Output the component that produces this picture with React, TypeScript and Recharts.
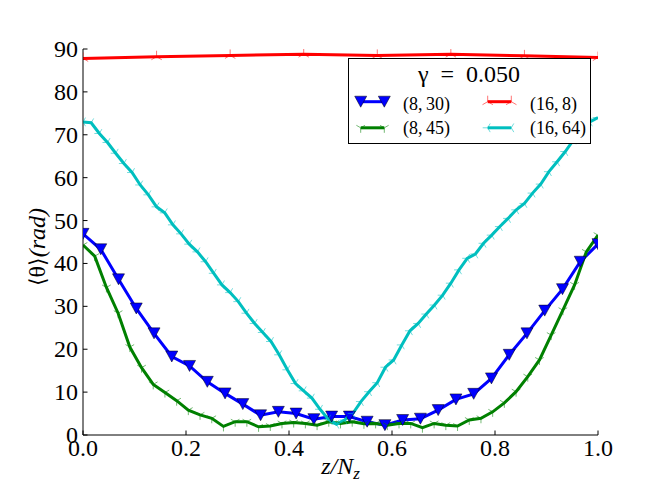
import React from 'react';
import { LineChart, Line, XAxis, YAxis, Legend } from 'recharts';

// ---- data ----
const zTicks = [0, 0.2, 0.4, 0.6, 0.8, 1.0];
const thetaTicks = [0, 10, 20, 30, 40, 50, 60, 70, 80, 90];
const legendTitle = 'γ\u2002=\u20020.050';

const seriesNames = ['(8,\u200930)', '(8,\u200945)', '(16,\u20098)', '(16,\u200964)'];
const seriesColors = ['#0000ff', '#008000', '#ff0000', '#00bfbf'];
const seriesMarkers = ['v', 'tri_down', 'tri_up', 'tri_left'];

// (8,30): 30 layers
const theta_8_30 = [
  46.9, 43.3, 36.3, 29.5, 23.7, 18.3, 16.1, 12.4, 9.7, 7.2,
  4.6, 5.4, 5.0, 3.7, 4.3, 4.3, 3.1, 2.3, 3.5, 3.8,
  5.8, 8.3, 9.6, 13.2, 18.7, 23.7, 29.0, 34.0, 40.4, 44.5,
];
// (8,45): 45 layers
const theta_8_45 = [
  44.3, 41.7, 34.4, 28.4, 20.5, 15.7, 11.8, 9.9, 8.0, 5.8,
  4.7, 3.9, 2.0, 3.1, 3.1, 1.9, 2.1, 2.7, 2.9, 2.7,
  2.3, 3.1, 2.7, 3.1, 2.6, 2.7, 2.3, 2.7, 2.7, 1.7,
  2.7, 2.3, 2.1, 3.5, 3.9, 5.4, 7.5, 10.1, 13.6, 17.5,
  23.3, 29.1, 35.0, 42.7, 46.6,
];
// (16,8): 8 layers
const theta_16_8 = [87.8, 88.2, 88.5, 88.8, 88.5, 88.8, 88.4, 88.0];
// (16,64): 64 layers
const theta_16_64 = [
  73.0, 72.8, 70.3, 68.2, 65.7, 63.3, 61.2, 58.3, 56.0, 53.2,
  51.8, 49.0, 46.9, 44.5, 42.7, 40.4, 37.7, 35.0, 33.2, 31.1,
  28.4, 26.0, 23.9, 21.8, 18.7, 15.2, 12.0, 10.3, 8.6, 6.0,
  3.7, 2.5, 3.5, 5.0, 7.8, 10.1, 12.2, 15.8, 17.5, 21.0,
  24.3, 26.0, 28.2, 30.3, 32.6, 35.4, 38.5, 41.2, 42.2, 44.7,
  46.6, 48.6, 50.5, 52.5, 54.0, 56.4, 58.5, 61.4, 63.7, 66.1,
  68.8, 71.0, 73.0, 74.0,
];

const seriesValues = [theta_8_30, theta_8_45, theta_16_8, theta_16_64];

// layer index -> z / N_z
const toPoints = (vals: number[]) =>
  vals.map((v, i) => ({ z: i / (vals.length - 1), theta: v }));

const SERIF = 'Liberation Serif, Times New Roman, Tinos, DejaVu Serif, serif';
const TICK = 4.5;

function Marker({ kind, cx, cy, color }: { kind: string; cx: number; cy: number; color: string }) {
  if (cx == null || cy == null || isNaN(cx) || isNaN(cy)) return <g />;
  if (kind === 'v') {
    const w = 12;
    const h = 11;
    return (
      <path
        d={`M${cx - w / 2},${cy - h / 2}L${cx + w / 2},${cy - h / 2}L${cx},${cy + h / 2}Z`}
        fill={color}
        stroke="#000"
        strokeWidth={0.5}
      />
    );
  }
  const r = kind === 'tri_up' ? 6 : 5;
  let arms: number[][] = [];
  if (kind === 'tri_down') arms = [[0, 1], [-0.866, -0.5], [0.866, -0.5]];
  if (kind === 'tri_up') arms = [[0, -1], [-0.866, 0.5], [0.866, 0.5]];
  if (kind === 'tri_left') arms = [[-1, 0], [0.5, -0.866], [0.5, 0.866]];
  const d = arms.map(([dx, dy]) => `M${cx},${cy}L${cx + dx * r},${cy + dy * r}`).join('');
  return <path d={d} stroke={color} strokeOpacity={0.55} strokeWidth={1} fill="none" />;
}

const txt = { fontFamily: SERIF, fill: '#000' } as React.CSSProperties;

const BottomTick = (p: any) => (
  <g>
    <line x1={p.x} x2={p.x} y1={p.y} y2={p.y - TICK} stroke="#000" strokeWidth={1} />
    <text x={p.x} y={p.y + 21} textAnchor="middle" fontSize={24} style={txt}>
      {Number(p.payload.value).toFixed(1)}
    </text>
  </g>
);
const TopTick = (p: any) => (
  <line x1={p.x} x2={p.x} y1={p.y} y2={p.y + TICK} stroke="#000" strokeWidth={1} />
);
const LeftTick = (p: any) => (
  <g>
    <line x1={p.x} x2={p.x + TICK} y1={p.y} y2={p.y} stroke="#000" strokeWidth={1} />
    <text x={p.x - 5} y={p.y + 8} textAnchor="end" fontSize={24} style={txt}>
      {String(p.payload.value)}
    </text>
  </g>
);
const RightTick = (p: any) => (
  <line x1={p.x} x2={p.x - TICK} y1={p.y} y2={p.y} stroke="#000" strokeWidth={1} />
);

const XLabel = (props: any) => {
  const vb = props.viewBox || { x: 83, y: 435, width: 515, height: 40 };
  const cx = vb.x + vb.width / 2;
  const y = vb.y + 39;
  return (
    <text x={cx} y={y} textAnchor="middle" fontSize={24} style={{ ...txt, fontStyle: 'italic' }}>
      z/N
      <tspan fontSize={17} dy={5}>z</tspan>
    </text>
  );
};

const YLabel = (props: any) => {
  const vb = props.viewBox || { x: 23, y: 49, width: 60, height: 386 };
  const x = 45;
  const y = vb.y + vb.height / 2 + 5;
  return (
    <text
      x={x}
      y={y}
      transform={`rotate(-90 ${x} ${y})`}
      textAnchor="middle"
      fontSize={24}
      style={txt}
    >
      <tspan style={{ fontFamily: 'DejaVu Serif, serif' }} fontSize={22}>⟨</tspan>
      <tspan>θ</tspan>
      <tspan style={{ fontFamily: 'DejaVu Serif, serif' }} fontSize={22}>⟩</tspan>
      <tspan style={{ fontStyle: 'italic' }}>(rad)</tspan>
    </text>
  );
};

const LegendBox = (props: any) => {
  const payload: any[] = props.payload || [];
  const entries = seriesNames.map((name, i) => {
    const found = payload.find((e) => e && e.value === name);
    return { name, color: found?.color || seriesColors[i], kind: seriesMarkers[i] };
  });
  const rowY = [43.7, 69.8];
  const textY = [52, 75.5];
  const colX = [0, 127];
  return (
    <svg width={244} height={87} style={{ display: 'block' }}>
      <rect x={0.5} y={0.5} width={242} height={85} fill="#fff" stroke="#000" strokeWidth={1} />
      <text x={121} y={24} textAnchor="middle" fontSize={24} style={txt}>
        {legendTitle}
      </text>
      {entries.map((e, i) => {
        const col = Math.floor(i / 2);
        const row = i % 2;
        const x0 = colX[col] + 12.7;
        const x1 = colX[col] + 36.3;
        const y = rowY[row];
        return (
          <g key={e.name}>
            <line x1={x0} x2={x1} y1={y} y2={y} stroke={e.color} strokeWidth={3} />
            <Marker kind={e.kind} cx={x0} cy={y} color={e.color} />
            <Marker kind={e.kind} cx={x1} cy={y} color={e.color} />
            <text x={colX[col] + 55} y={textY[row]} fontSize={18} style={txt}>
              {e.name}
            </text>
          </g>
        );
      })}
    </svg>
  );
};

export default function App() {
  return (
    <div style={{ position: 'absolute', left: 0, top: 0, width: 664, height: 498, background: '#fff', fontFamily: SERIF }}>
      <LineChart width={664} height={498} margin={{ top: 49, right: 66, bottom: 23, left: 23 }}>
        <XAxis
          type="number"
          dataKey="z"
          domain={[0, 1]}
          ticks={zTicks}
          allowDataOverflow
          height={40}
          tickSize={0}
          tickMargin={0}
          tickLine={false}
          axisLine={{ stroke: '#000', strokeWidth: 1 }}
          tick={BottomTick}
          interval={0}
          label={{ content: XLabel }}
        />
        <XAxis
          xAxisId="top"
          orientation="top"
          type="number"
          dataKey="z"
          domain={[0, 1]}
          ticks={zTicks}
          allowDataOverflow
          height={0}
          tickSize={0}
          tickMargin={0}
          tickLine={false}
          axisLine={{ stroke: '#000', strokeWidth: 1 }}
          tick={TopTick}
          interval={0}
        />
        <YAxis
          type="number"
          domain={[0, 90]}
          ticks={thetaTicks}
          allowDataOverflow
          width={60}
          tickSize={0}
          tickMargin={0}
          tickLine={false}
          axisLine={{ stroke: '#000', strokeWidth: 1 }}
          tick={LeftTick}
          interval={0}
          label={{ content: YLabel }}
        />
        <YAxis
          yAxisId="right"
          orientation="right"
          type="number"
          domain={[0, 90]}
          ticks={thetaTicks}
          allowDataOverflow
          width={0}
          tickSize={0}
          tickMargin={0}
          tickLine={false}
          axisLine={{ stroke: '#000', strokeWidth: 1 }}
          tick={RightTick}
          interval={0}
        />
        {seriesValues.map((vals, i) => (
          <Line
            key={seriesNames[i]}
            name={seriesNames[i]}
            data={toPoints(vals)}
            dataKey="theta"
            type="linear"
            stroke={seriesColors[i]}
            strokeWidth={3}
            isAnimationActive={false}
            activeDot={false}
            dot={(p: any) => (
              <Marker key={`m-${i}-${p.index}`} kind={seriesMarkers[i]} cx={p.cx} cy={p.cy} color={seriesColors[i]} />
            )}
          />
        ))}
        <Legend
          layout="vertical"
          align="center"
          verticalAlign="middle"
          content={LegendBox}
          wrapperStyle={{ position: 'absolute', left: 348, top: 58, width: 244, height: 87 }}
        />
      </LineChart>
    </div>
  );
}
